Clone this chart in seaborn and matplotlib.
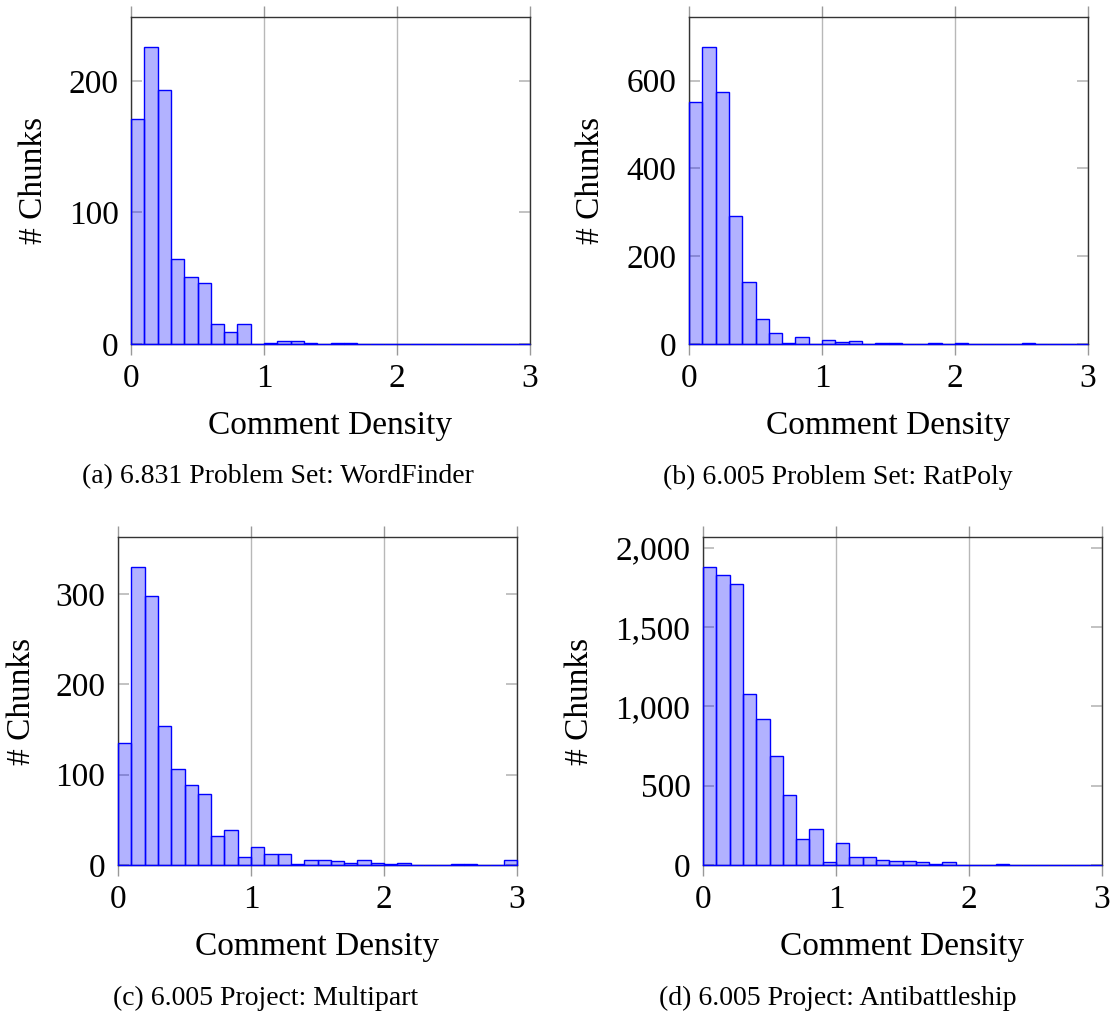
import numpy as np
import pandas as pd
import matplotlib
matplotlib.use("Agg")
import matplotlib.pyplot as plt
import seaborn as sns
from matplotlib.ticker import FuncFormatter

sns.set_style("white")
plt.rcParams['font.family'] = ['Liberation Serif', 'DejaVu Serif']
plt.rcParams['text.color'] = 'black'
plt.rcParams['axes.labelcolor'] = 'black'
plt.rcParams['xtick.labelcolor'] = 'black'
plt.rcParams['ytick.labelcolor'] = 'black'

# bin counts, 30 bins of width 0.1 over [0, 3]
centers = np.arange(30) * 0.1 + 0.05

wordfinder = [171, 226, 193, 65, 51, 46, 15, 9, 15, 0,
              1, 2, 2, 1, 0, 1, 1, 0, 0, 0,
              0, 0, 0, 0, 0, 0, 0, 0, 0, 0]
ratpoly = [552, 677, 574, 292, 142, 58, 24, 3, 15, 0,
           8, 4, 6, 1, 2, 2, 1, 0, 2, 0,
           3, 1, 0, 0, 0, 3, 1, 0, 0, 0]
multipart = [135, 330, 298, 154, 106, 89, 79, 32, 39, 9,
             20, 12, 12, 1, 5, 6, 4, 2, 5, 2,
             1, 2, 0, 0, 0, 1, 1, 0, 0, 6]
antibattleship = [1880, 1831, 1770, 1078, 922, 688, 443, 165, 228, 21,
                  141, 53, 49, 30, 25, 25, 21, 4, 21, 2,
                  1, 1, 4, 0, 0, 0, 0, 0, 0, 0]

captions = ["(a) 6.831 Problem Set: WordFinder",
            "(b) 6.005 Problem Set: RatPoly",
            "(c) 6.005 Project: Multipart",
            "(d) 6.005 Project: Antibattleship"]
yticks = [[0, 100, 200], [0, 200, 400, 600],
          [0, 100, 200, 300], [0, 500, 1000, 1500, 2000]]
series = [wordfinder, ratpoly, multipart, antibattleship]

W, H = 1112, 1015
fig = plt.figure(figsize=(W / 100, H / 100), dpi=100)

# axes boxes in pixels: left, top, right, bottom
boxes = [(131, 17, 530, 344), (689, 17, 1088, 344),
         (118, 537, 517, 865), (703, 537, 1102, 865)]
ylab_x = [34, 591, 22, 580]
xlab_y = [426, 426, 947, 947]
cap_x = [278, 838, 266, 838]
cap_y = [477, 477, 998, 998]

for i, counts in enumerate(series):
    l, t, r, b = boxes[i]
    ax = fig.add_axes([l / W, 1 - b / H, (r - l) / W, (b - t) / H])
    df = pd.DataFrame({'density': centers, 'n': np.array(counts, float)})
    sns.histplot(data=df, x='density', weights='n', binwidth=0.1,
                 binrange=(0, 3), ax=ax, color='#0000ff', linewidth=1.0)
    for p in ax.patches:
        p.set_facecolor((0, 0, 1, 0.3))
        p.set_edgecolor((0, 0, 1, 1))
        p.set_zorder(3)
        p.set_clip_on(False)
    ax.set_xlim(0, 3)
    ax.set_ylim(0, max(counts) * 1.1)
    ax.set_xticks([0, 1, 2, 3])
    ax.set_yticks(yticks[i])
    ax.yaxis.set_major_formatter(FuncFormatter(lambda v, pos: f"{int(v):,}"))
    ax.grid(axis='x', color='#b8b8b8', lw=1.0)
    ax.grid(axis='y', visible=False)
    ax.set_axisbelow(True)
    for s in ax.spines.values():
        s.set_color('#333333')
        s.set_linewidth(1.0)
    ax.tick_params(axis='x', direction='out', length=8, width=1.0,
                   color='#999999', labelsize=24, pad=6,
                   top=True, bottom=True)
    ax.tick_params(axis='y', direction='in', length=8, width=1.2,
                   color='#b8b8b8', labelsize=24, pad=9,
                   left=True, right=True)
    ax.set_xlabel("Comment Density", fontsize=24)
    ax.set_ylabel("# Chunks", fontsize=24)
    ax.xaxis.label.set_va('center')
    ax.yaxis.label.set_va('center')
    ax.xaxis.set_label_coords(0.5, -(xlab_y[i] - b) / (b - t))
    ax.yaxis.set_label_coords((ylab_x[i] - l) / (r - l), 0.5)
    fig.text(cap_x[i] / W, 1 - cap_y[i] / H, captions[i],
             ha='center', va='center', fontsize=20)

fig.savefig("out.png", dpi=100)
